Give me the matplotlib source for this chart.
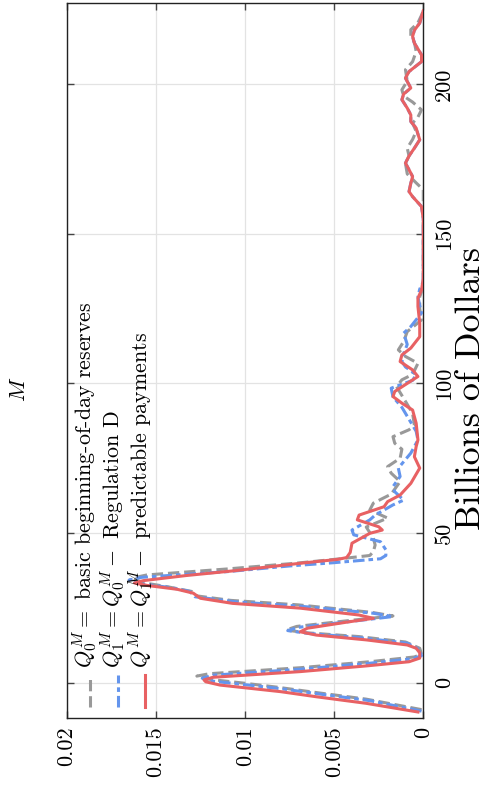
import matplotlib
matplotlib.use("Agg")
import matplotlib.pyplot as plt

# ---------------- data (Billions of Dollars, density) ----------------
gray_b = [-9.0, -5.5, -3.3, -1.5, -0.2, 1.2, 2.2, 3.0, 5.0, 7.0, 8.6, 9.5, 11.5, 13.6, 15.4, 16.7,
          17.6, 18.8, 20.8, 22.3, 23.5, 26.0, 27.5, 29.0, 30.5, 32.0, 33.5, 35.0, 36.0, 38.0, 40.0,
          41.5, 42.5, 43.8, 46.0, 48.3, 52.0, 55.0, 57.7, 60.0, 63.0, 67.2, 70.0, 72.2, 75.0, 78.0,
          80.0, 82.2, 84.5, 86.0, 90.0, 94.0, 98.9, 101.2, 103.0, 106.7, 109.0, 111.2, 114.0, 117.3,
          121.2, 125.0, 129.0, 132.0, 155.0, 164.7, 167.0, 170.0, 173.5, 176.0, 178.6, 181.5, 184.2,
          187.0, 189.0, 191.4, 194.0, 196.0, 198.1, 201.0, 204.8, 207.5, 210.9, 214.0, 216.0, 218.2,
          220.5, 223.0, 224.5]
gray_d = [0.0001, 0.0032, 0.0060, 0.0082, 0.0100, 0.0121, 0.0127, 0.0120, 0.0069, 0.0030, 0.0005,
          0.0001, 0.0002, 0.0010, 0.0036, 0.0066, 0.0077, 0.0071, 0.0041, 0.0017, 0.0029, 0.0070,
          0.0108, 0.0127, 0.0130, 0.0143, 0.0158, 0.0163, 0.0155, 0.0110, 0.0070, 0.0045, 0.0030,
          0.0028, 0.0027, 0.0028, 0.0032, 0.0020, 0.0030, 0.0028, 0.0018, 0.0013, 0.0018, 0.0020,
          0.0013, 0.0012, 0.0016, 0.0017, 0.0008, 0.0005, 0.0006, 0.0010, 0.0015, 0.0012, 0.0006,
          0.0003, 0.0010, 0.0014, 0.0011, 0.0009, 0.0001, 0.0002, 0.0002, 0.0000, 0.0000, 0.0000,
          0.0004, 0.0009, 0.0010, 0.0008, 0.0009, 0.0006, 0.0004, 0.0006, 0.0003, 0.0001, 0.0006,
          0.0011, 0.0012, 0.0009, 0.0010, 0.0006, 0.0004, 0.0005, 0.0007, 0.0007, 0.0003, 0.0001,
          0.0000]

blue_b = [-9.5, -6.0, -3.8, -2.0, -0.8, 0.5, 1.5, 2.5, 4.5, 6.5, 8.0, 9.0, 11.0, 13.2, 15.0, 16.5,
          17.4, 18.5, 20.5, 22.1, 23.2, 25.5, 27.0, 28.7, 30.5, 31.8, 33.0, 34.3, 35.2, 37.1, 39.0,
          40.1, 41.4, 42.5, 44.4, 47.1, 49.4, 51.0, 54.4, 56.0, 59.4, 61.0, 63.8, 65.5, 68.9, 71.7,
          76.7, 81.1, 84.0, 88.0, 92.0, 95.5, 98.4, 101.0, 103.0, 105.5, 107.3, 110.0, 113.0, 116.8,
          119.0, 123.5, 126.0, 129.0, 131.5, 134.0, 155.0, 159.1, 162.4, 164.1, 166.9, 169.1, 171.4,
          173.6, 176.0, 178.6, 181.4, 183.3, 185.3, 187.5, 189.7, 192.0, 194.8, 196.7, 198.7, 202.0,
          204.2, 207.5, 209.8, 213.7, 215.9, 218.0, 220.4, 222.5, 224.5]
blue_d = [0.0001, 0.0030, 0.0058, 0.0080, 0.0098, 0.0118, 0.0124, 0.0118, 0.0069, 0.0030, 0.0006,
          0.0001, 0.0002, 0.0009, 0.0035, 0.0065, 0.0076, 0.0070, 0.0040, 0.0017, 0.0028, 0.0068,
          0.0105, 0.0128, 0.0131, 0.0142, 0.0158, 0.0165, 0.0158, 0.0110, 0.0075, 0.0050, 0.0024,
          0.0021, 0.0021, 0.0024, 0.0039, 0.0040, 0.0030, 0.0027, 0.0017, 0.0011, 0.0016, 0.0017,
          0.0013, 0.0014, 0.0007, 0.0003, 0.0004, 0.0008, 0.0012, 0.0017, 0.0018, 0.0006, 0.0004,
          0.0010, 0.0012, 0.0011, 0.0009, 0.0011, 0.0007, 0.0001, 0.0002, 0.0003, 0.0002, 0.0000,
          0.0000, 0.0001, 0.0006, 0.0008, 0.0007, 0.0006, 0.0008, 0.0010, 0.0008, 0.0005, 0.0002,
          0.0003, 0.0004, 0.0007, 0.0007, 0.0009, 0.0012, 0.0011, 0.0007, 0.0010, 0.0008, 0.0001,
          0.0001, 0.0005, 0.0006, 0.0005, 0.0002, 0.0001, 0.0000]

red_b = [-9.8, -6.9, -4.7, -3.0, -1.9, -0.8, 0.3, 0.9, 1.8, 3.7, 5.6, 7.0, 8.2, 10.0, 11.5, 12.6,
         14.3, 15.9, 17.0, 18.2, 20.4, 21.5, 22.6, 24.9, 26.5, 28.2, 29.9, 31.2, 32.5, 33.3, 34.1,
         35.8, 37.4, 39.9, 41.2, 41.8, 43.5, 46.6, 49.9, 51.0, 52.1, 54.4, 56.0, 58.8, 60.5, 62.7,
         66.6, 71.7, 75.5, 78.9, 81.1, 86.7, 91.1, 93.4, 95.6, 97.3, 100.0, 102.3, 104.5, 107.3,
         109.5, 111.8, 115.6, 120.1, 125.7, 128.5, 131.2, 135.0, 155.0, 159.1, 162.4, 164.1, 166.9,
         169.1, 171.4, 173.6, 176.0, 178.6, 181.4, 183.3, 185.3, 187.5, 189.7, 192.0, 194.8, 196.7,
         198.7, 202.0, 204.2, 207.5, 209.8, 213.7, 215.9, 218.0, 220.4, 222.5, 224.5]
red_d = [0.0003, 0.0032, 0.0060, 0.0080, 0.0097, 0.0114, 0.0122, 0.0123, 0.0118, 0.0069, 0.0032,
         0.0008, 0.0002, 0.0002, 0.0004, 0.0009, 0.0032, 0.0060, 0.0069, 0.0065, 0.0041, 0.0028,
         0.0036, 0.0069, 0.0107, 0.0125, 0.0129, 0.0138, 0.0155, 0.0162, 0.0157, 0.0133, 0.0106,
         0.0069, 0.0048, 0.0043, 0.0041, 0.0040, 0.0030, 0.0023, 0.0025, 0.0037, 0.0036, 0.0022,
         0.0020, 0.0013, 0.0007, 0.0002, 0.0005, 0.0004, 0.0003, 0.0004, 0.0006, 0.0012, 0.0017,
         0.0016, 0.0009, 0.0003, 0.0006, 0.0013, 0.0012, 0.0007, 0.0002, 0.0002, 0.0003, 0.0003,
         0.0001, 0.0000, 0.0000, 0.0001, 0.0006, 0.0008, 0.0007, 0.0006, 0.0008, 0.0010, 0.0008,
         0.0005, 0.0002, 0.0003, 0.0004, 0.0007, 0.0007, 0.0009, 0.0012, 0.0011, 0.0007, 0.0010,
         0.0008, 0.0001, 0.0001, 0.0005, 0.0006, 0.0005, 0.0002, 0.0001, 0.0000]

density_ticks = [0.0, 0.005, 0.01, 0.015, 0.02]
density_labels = ["0", "0.005", "0.01", "0.015", "0.02"]
billion_ticks = [0, 50, 100, 150, 200]
billion_labels = ["0", "50", "100", "150", "200"]

legend_labels = [r"$Q_0^M=$ basic beginning-of-day reserves",
                 r"$Q_1^M=Q_0^M-$ Regulation D",
                 r"$Q^M=Q_1^M-$ predictable payments"]
title_text = r"$M$"
xlabel_text = "Billions of Dollars"

# ---------------- style ----------------
plt.rcParams['font.family'] = ['cmr10']
plt.rcParams['mathtext.fontset'] = 'cm'
plt.rcParams['axes.formatter.use_mathtext'] = True
plt.rcParams['axes.unicode_minus'] = False

GRAY = "#999999"
BLUE = "#6495ED"
RED = "#E86163"
LW = 2.2
BLUE_DASH = [3.8, 1.3, 1.5, 1.3]

fig = plt.figure(figsize=(4.88, 7.87), dpi=100)
ax = fig.add_axes([0.1367, 0.0873, 0.7307, 0.9085])

l_gray, = ax.plot(gray_d, gray_b, color=GRAY, lw=LW, ls='--', zorder=3)
l_blue, = ax.plot(blue_d, blue_b, color=BLUE, lw=LW, zorder=4)
l_blue.set_dashes(BLUE_DASH)
l_red, = ax.plot(red_d, red_b, color=RED, lw=LW, ls='-', zorder=5)

ax.set_xlim(0.02, 0.0)
ax.set_ylim(-11.9, 227.0)

ax.set_xticks(density_ticks)
ax.set_xticklabels(density_labels, rotation=90, va='top', ha='center')
ax.set_yticks(billion_ticks)
ax.tick_params(axis='y', which='both', direction='in', left=True, right=True,
               labelleft=False, labelright=True, length=5, width=1, color='#444444',
               pad=8, labelsize=16)
ax.set_yticklabels(billion_labels, rotation=90, va='center', ha='left')
ax.tick_params(axis='x', which='both', direction='in', top=True, bottom=True,
               length=5, width=1, color='#444444', pad=6, labelsize=16)

ax.grid(True, color='#e3e3e3', lw=0.9, zorder=0)
ax.set_axisbelow(True)
for sp in ax.spines.values():
    sp.set_color('#222222')
    sp.set_linewidth(1.0)

# rotated legend drawn manually (entries read bottom to top)
leg_x = [0.064, 0.1425, 0.2196]
lines = [l_gray, l_blue, l_red]
for xx, ln, lab in zip(leg_x, lines, legend_labels):
    h, = ax.plot([xx, xx], [0.0158, 0.0605], transform=ax.transAxes, color=ln.get_color(),
                 lw=LW, clip_on=False, zorder=6)
    h.set_linestyle(ln.get_linestyle())
    if ln is l_blue:
        h.set_dashes(BLUE_DASH)
    ax.text(xx + 0.008, 0.0703, lab, transform=ax.transAxes, rotation=90,
            rotation_mode='anchor', ha='left', va='baseline', fontsize=15.8, zorder=7)

# title (left) and axis label (right), rotated
fig.text(19 / 488, 1 - 389 / 787, title_text, rotation=90, ha='center', va='center', fontsize=16)
fig.text(480 / 488, 1 - 388 / 787, xlabel_text, rotation=90, rotation_mode='anchor',
         ha='center', va='baseline', fontsize=26)

fig.savefig("out.png", dpi=100)
